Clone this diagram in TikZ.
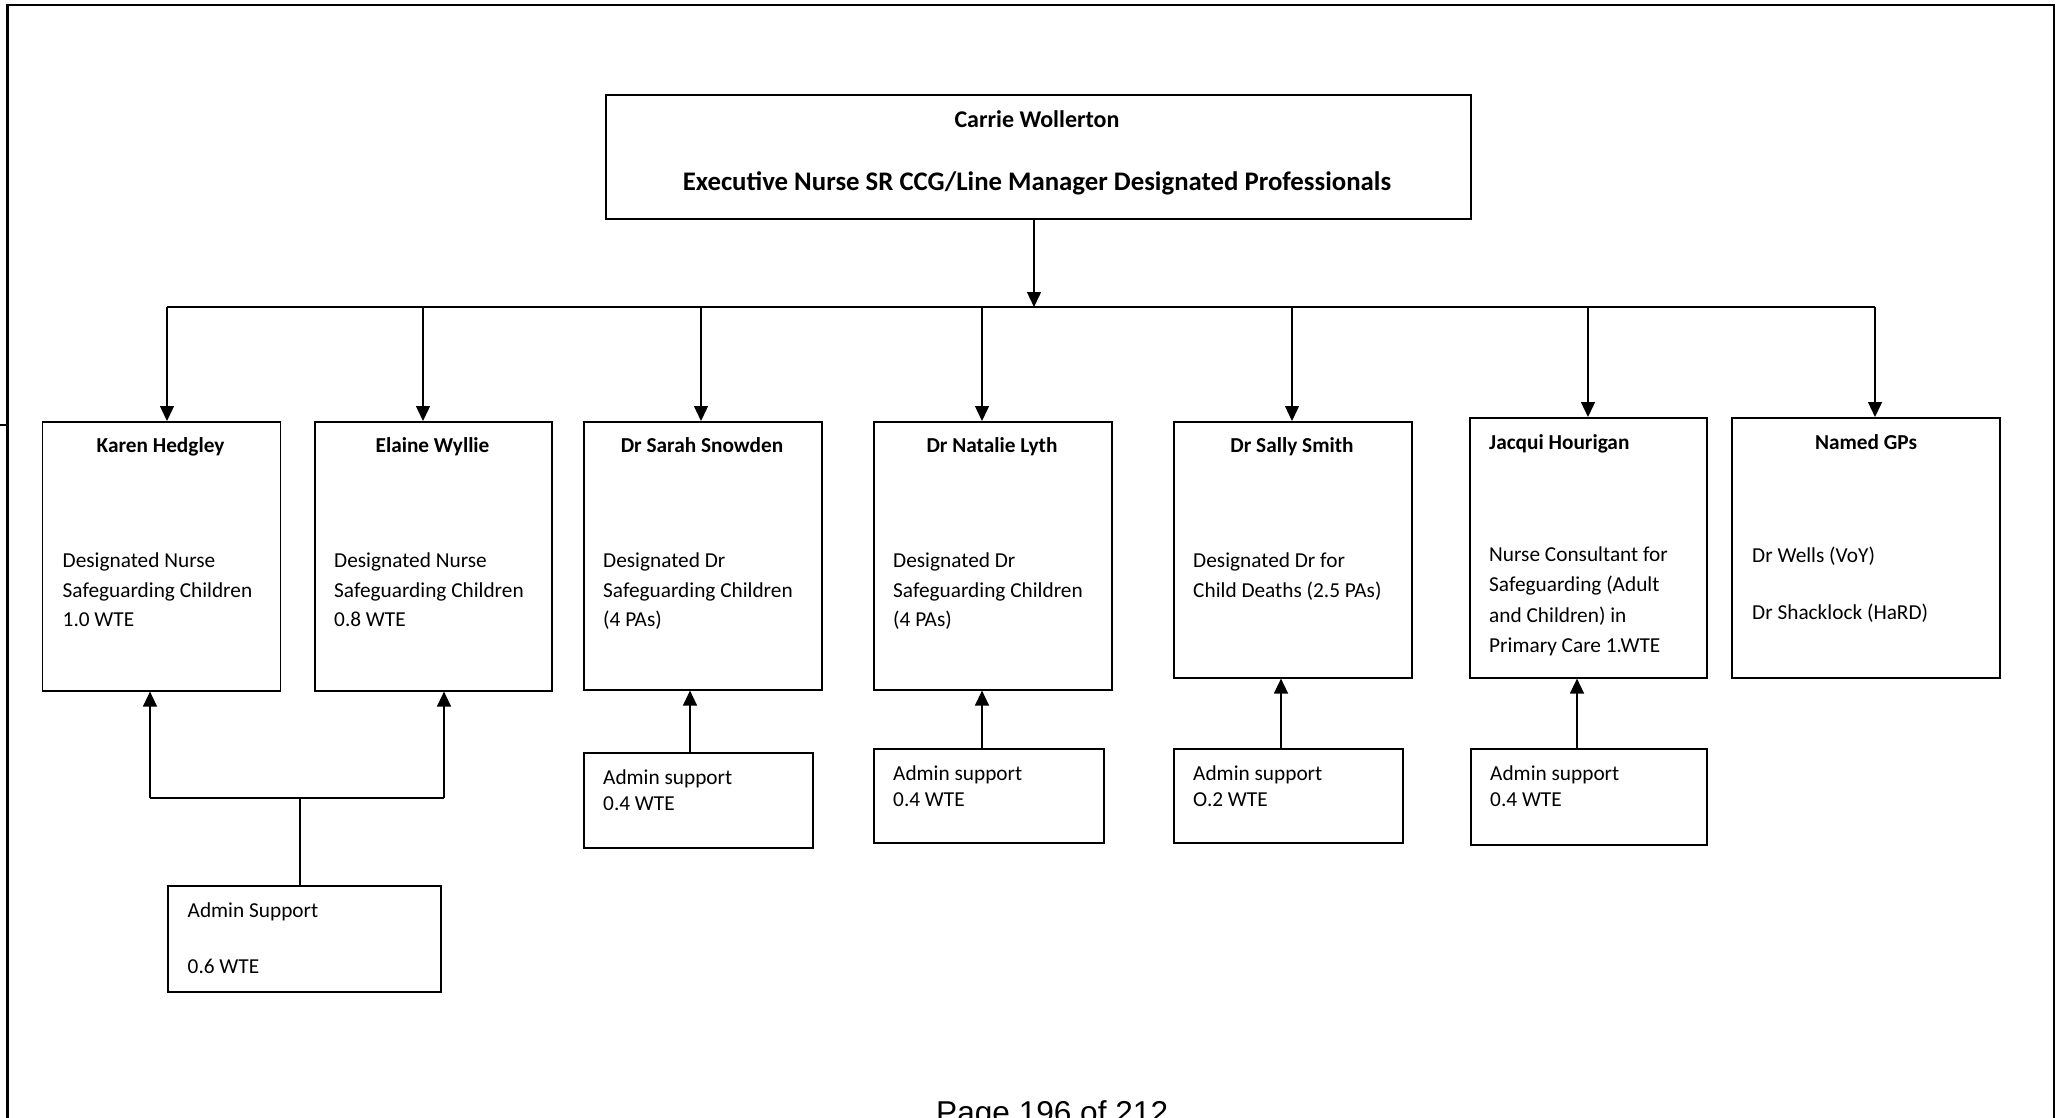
\documentclass[tikz,border=0pt]{standalone}
\usepackage{fontspec}
\setmainfont{Carlito}
\newfontfamily\footfont{Liberation Sans}
\usetikzlibrary{arrows.meta}
\tikzset{
  box/.style={draw, line width=1.6pt, inner sep=0pt, anchor=north west},
  ln/.style={line width=1.4pt},
  arr/.style={line width=1.4pt, -{Triangle[length=15pt,width=14pt]}},
  txt/.style={inner sep=0pt, anchor=base west, font=\fontsize{21.3}{29.5}\selectfont},
  hdr/.style={inner sep=0pt, anchor=base, font=\fontsize{21.3}{29.5}\selectfont\bfseries},
  hdrl/.style={inner sep=0pt, anchor=base west, font=\fontsize{21.3}{29.5}\selectfont\bfseries},
  ttl/.style={inner sep=0pt, anchor=base, font=\fontsize{24}{28}\selectfont\bfseries},
  ttlb/.style={inner sep=0pt, anchor=base, font=\fontsize{26.8}{30}\selectfont\bfseries},
}
\begin{document}
\begin{tikzpicture}[x=1pt,y=-1pt]
\useasboundingbox (0,0) rectangle (2063,1118);
% page frame
\draw[line width=2.7pt] (7.7,1125) -- (7.7,5) -- (2054,5) -- (2054,1125);
\draw[line width=2pt] (0,425) -- (7.7,425);

% boxes
\node[box, minimum width=865pt, minimum height=124pt] (top) at (605,94) {};
\node[box, minimum width=238pt, minimum height=269pt] (kh) at (41.5,421) {};
\node[box, minimum width=237pt, minimum height=269pt] (ew) at (314,421) {};
\node[box, minimum width=238pt, minimum height=268pt] (ss) at (583,421) {};
\node[box, minimum width=238pt, minimum height=268pt] (nl) at (873,421) {};
\node[box, minimum width=238pt, minimum height=256pt] (sm) at (1173,421) {};
\node[box, minimum width=237pt, minimum height=260pt] (jh) at (1469,417) {};
\node[box, minimum width=268pt, minimum height=260pt] (gp) at (1731,417) {};
\node[box, minimum width=273pt, minimum height=106pt] (adm) at (167,885) {};
\node[box, minimum width=229pt, minimum height=95pt] (sadm) at (583,752) {};
\node[box, minimum width=230pt, minimum height=94pt] (nadm) at (873,748) {};
\node[box, minimum width=229pt, minimum height=94pt] (smadm) at (1173,748) {};
\node[box, minimum width=236pt, minimum height=96pt] (jadm) at (1470,748) {};

% top texts
\node[ttl] (t1) at (1037,128) {Carrie Wollerton};
\node[ttlb] (t2) at (1037,190) {Executive Nurse SR CCG/Line Manager Designated Professionals};

% Karen
\node[hdr] (kh0) at (160.5,452) {Karen Hedgley};
\node[txt] (kh1) at (62.5,567) {Designated Nurse};
\node[txt] (kh2) at (62.5,597) {Safeguarding Children};
\node[txt] (kh3) at (62.5,626) {1.0 WTE};
% Elaine
\node[hdr] (ew0) at (432.5,452) {Elaine Wyllie};
\node[txt] (ew1) at (334,567) {Designated Nurse};
\node[txt] (ew2) at (334,597) {Safeguarding Children};
\node[txt] (ew3) at (334,626) {0.8 WTE};
% Sarah
\node[hdr] (ss0) at (702,452) {Dr Sarah Snowden};
\node[txt] (ss1) at (603,567) {Designated Dr};
\node[txt] (ss2) at (603,597) {Safeguarding Children};
\node[txt] (ss3) at (603,626) {(4 PAs)};
% Natalie
\node[hdr] (nl0) at (992,452) {Dr Natalie Lyth};
\node[txt] (nl1) at (893,567) {Designated Dr};
\node[txt] (nl2) at (893,597) {Safeguarding Children};
\node[txt] (nl3) at (893,626) {(4 PAs)};
% Sally
\node[hdr] (sm0) at (1292,452) {Dr Sally Smith};
\node[txt] (sm1) at (1193,567) {Designated Dr for};
\node[txt] (sm2) at (1193,597) {Child Deaths (2.5 PAs)};
% Jacqui
\node[hdrl] (jh0) at (1489,449) {Jacqui Hourigan};
\node[txt] (jh1) at (1489,561) {Nurse Consultant for};
\node[txt] (jh2) at (1489,591) {Safeguarding (Adult};
\node[txt] (jh3) at (1489,622) {and Children) in};
\node[txt] (jh4) at (1489,652) {Primary Care 1.WTE};
% Named GPs
\node[hdr] (gp0) at (1866,449) {Named GPs};
\node[txt] (gp1) at (1752,562) {Dr Wells (VoY)};
\node[txt] (gp2) at (1752,619) {Dr Shacklock (HaRD)};
% admin boxes
\node[txt] (adm1) at (187.5,917) {Admin Support};
\node[txt] (adm2) at (187.5,973) {0.6 WTE};
\node[txt] (sadm1) at (603,784) {Admin support};
\node[txt] (sadm2) at (603,810) {0.4 WTE};
\node[txt] (nadm1) at (893,780) {Admin support};
\node[txt] (nadm2) at (893,806) {0.4 WTE};
\node[txt] (smadm1) at (1193,780) {Admin support};
\node[txt] (smadm2) at (1193,806) {O.2 WTE};
\node[txt] (jadm1) at (1490,780) {Admin support};
\node[txt] (jadm2) at (1490,806) {0.4 WTE};

% footer
\node[inner sep=0pt, anchor=base west, font=\footfont\fontsize{31.6}{36}\selectfont] (pg) at (936,1123) {Page 196 of 212};

% connectors from top
\coordinate (bus) at (1034,307);
\coordinate (busL) at (167,307);
\coordinate (busR) at (1875,307);
\draw[arr] (top.south -| bus) -- (bus);
\draw[ln] (busL) -- (busR);
\coordinate (d2) at (423,307);
\coordinate (d3) at (701,307);
\coordinate (d4) at (982,307);
\coordinate (d5) at (1292,307);
\coordinate (d6) at (1588,307);
\draw[arr] (busL) -- (busL |- kh.north);
\draw[arr] (d2) -- (d2 |- ew.north);
\draw[arr] (d3) -- (d3 |- ss.north);
\draw[arr] (d4) -- (d4 |- nl.north);
\draw[arr] (d5) -- (d5 |- sm.north);
\draw[arr] (d6) -- (d6 |- jh.north);
\draw[arr] (busR) -- (busR |- gp.north);

% shared admin
\coordinate (jL) at (150,798);
\coordinate (jR) at (444,798);
\coordinate (jM) at (300,798);
\draw[ln] (jM |- adm.north) -- (jM);
\draw[ln] (jL) -- (jR);
\draw[arr] (jL) -- (jL |- kh.south);
\draw[arr] (jR) -- (jR |- ew.south);

% admin arrows
\coordinate (a1) at (690,0);
\coordinate (a2) at (982,0);
\coordinate (a3) at (1281,0);
\coordinate (a4) at (1577,0);
\draw[arr] (a1 |- sadm.north) -- (a1 |- ss.south);
\draw[arr] (a2 |- nadm.north) -- (a2 |- nl.south);
\draw[arr] (a3 |- smadm.north) -- (a3 |- sm.south);
\draw[arr] (a4 |- jadm.north) -- (a4 |- jh.south);
\end{tikzpicture}
\end{document}
